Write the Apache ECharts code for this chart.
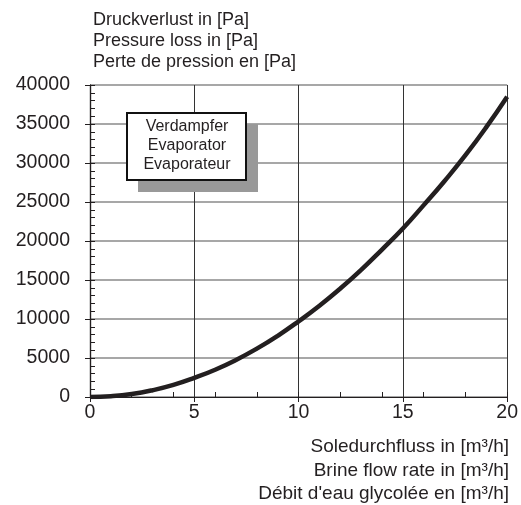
<!DOCTYPE html>
<html>
<head>
<meta charset="utf-8">
<script src="https://cdn.jsdelivr.net/npm/echarts@6/dist/echarts.min.js"></script>
<style>html,body{margin:0;padding:0;background:#fff;}#c{width:521px;height:505px;}</style>
</head>
<body>
<div id="c"></div>
<script>
const flow = [0,1,2,3,4,5,6,7,8,9,10,11,12,13,14,15,16,17,18,19,20];
const pressure = [0,100,380,870,1550,2450,3500,4750,6200,7850,9700,11700,13900,16300,18900,21600,24600,27700,31000,34600,38500];
const yTitle = ['Druckverlust in [Pa]','Pressure loss in [Pa]','Perte de pression en [Pa]'];
const xTitle = ['Soledurchfluss in [m³/h]','Brine flow rate in [m³/h]','Débit d\'eau glycolée en [m³/h]'];
const boxLines = ['Verdampfer','Evaporator','Evaporateur'];

const FONT = 'Liberation Sans, Arial, sans-serif';
const TXT = '#231f20';
const chart = echarts.init(document.getElementById('c'));
const data = flow.map((f,i)=>[f,pressure[i]]);

const graphics = [
  {type:'rect',x:138,y:124,shape:{width:120,height:68},style:{fill:'#999'},z:100},
  {type:'rect',x:127,y:113,shape:{width:119,height:67},style:{fill:'#fff',stroke:'#111',lineWidth:2},z:101}
];
boxLines.forEach((t,i)=>graphics.push({type:'text',x:187,y:127+i*19,z:102,
  style:{text:t,align:'center',verticalAlign:'middle',fontSize:16,fill:TXT,fontFamily:FONT}}));
yTitle.forEach((t,i)=>graphics.push({type:'text',x:93,y:20+i*21,z:102,
  style:{text:t,align:'left',verticalAlign:'middle',fontSize:18,fill:TXT,fontFamily:FONT}}));
xTitle.forEach((t,i)=>graphics.push({type:'text',x:509,y:447+i*23.3,z:102,
  style:{text:t,align:'right',verticalAlign:'middle',fontSize:19,fill:TXT,fontFamily:FONT}}));

chart.setOption({
  animation:false,
  textStyle:{fontFamily:FONT},
  grid:{left:90,right:13,top:85,bottom:108,containLabel:false},
  xAxis:[
    {type:'value',position:'bottom',min:0,max:20,interval:5,
     axisLine:{show:true,lineStyle:{color:TXT,width:1.2}},
     axisTick:{show:true,inside:false,length:5,lineStyle:{color:TXT}},
     axisLabel:{fontSize:19.5,color:TXT,margin:6,fontFamily:FONT},
     splitLine:{show:true,lineStyle:{color:'#333',width:1}}},
    {type:'value',position:'bottom',min:0,max:20,interval:2,
     axisLine:{show:false},axisTick:{show:true,inside:true,length:5,lineStyle:{color:TXT}},
     axisLabel:{show:false},splitLine:{show:false}},
    {type:'value',position:'top',min:0,max:20,interval:5,
     axisLine:{show:true,lineStyle:{color:TXT,width:1.2}},axisTick:{show:false},
     axisLabel:{show:false},splitLine:{show:false}}
  ],
  yAxis:[
    {type:'value',position:'left',min:0,max:40000,interval:5000,
     axisLine:{show:true,lineStyle:{color:TXT,width:1.2}},
     axisTick:{show:true,inside:false,length:5,lineStyle:{color:TXT}},
     axisLabel:{fontSize:19.5,color:TXT,margin:20,fontFamily:FONT,formatter:v=>String(v)},
     splitLine:{show:true,lineStyle:{color:'#8a8a8a',width:1.5}}},
    {type:'value',position:'left',min:0,max:40000,interval:1000,
     axisLine:{show:false},axisTick:{show:true,inside:true,length:5,lineStyle:{color:TXT}},
     axisLabel:{show:false},splitLine:{show:false}},
    {type:'value',position:'right',min:0,max:40000,interval:5000,
     axisLine:{show:true,lineStyle:{color:TXT,width:1.2}},axisTick:{show:false},
     axisLabel:{show:false},splitLine:{show:false}}
  ],
  graphic:graphics,
  series:[{type:'line',xAxisIndex:0,yAxisIndex:0,data:data,smooth:true,showSymbol:false,symbol:'none',
    lineStyle:{color:'#231f20',width:4.5},z:10}]
});
</script>
</body>
</html>
